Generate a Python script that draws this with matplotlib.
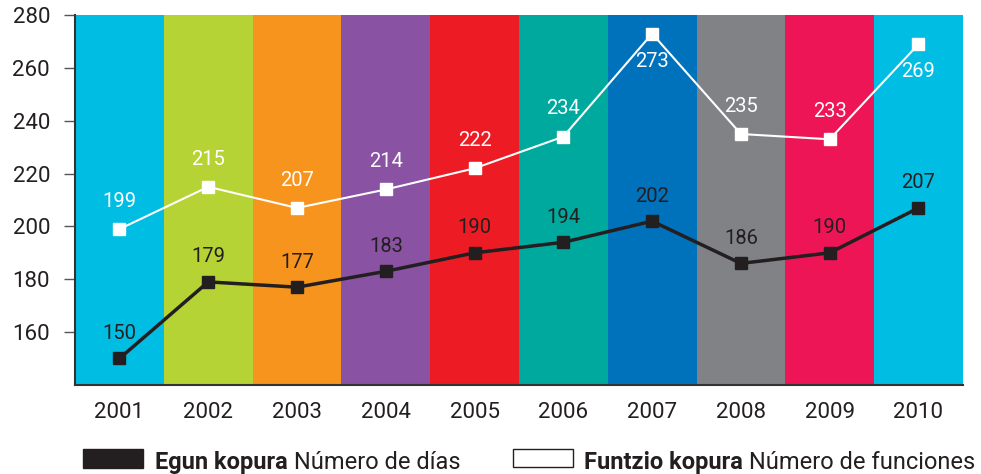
import matplotlib.pyplot as plt
from matplotlib.patches import Rectangle

plt.rcParams['font.family'] = ['Roboto', 'DejaVu Sans']

years = ['2001', '2002', '2003', '2004', '2005', '2006', '2007', '2008', '2009', '2010']
band_colors = ['#00BDE3', '#B5D334', '#F7941D', '#8A52A3', '#ED1C24',
               '#00A99D', '#0072BC', '#808285', '#ED1556', '#00BDE3']
days = [150, 179, 177, 183, 190, 194, 202, 186, 190, 207]
functions = [199, 215, 207, 214, 222, 234, 273, 235, 233, 269]
# white labels that sit under the point
below = ['2007', '2010']

dark = '#231F20'

fig = plt.figure(figsize=(9.81, 4.74), dpi=100)
ax = fig.add_axes([0.0765, 0.188, 0.905, 0.780])

x = list(range(len(years)))
ax.bar(x, [280 - 140] * len(x), bottom=140, width=1.0, color=band_colors, zorder=0)

ax.plot(x, days, color=dark, lw=2.5, marker='s', ms=8, zorder=3)
ax.plot(x, functions, color='white', lw=1.5, marker='s', ms=8, zorder=3)

for i, v in enumerate(days):
    ax.annotate(str(v), (i, v), xytext=(0, 18), textcoords='offset points',
                ha='center', va='center', fontsize=14.5, color=dark)
for i, v in enumerate(functions):
    dy = -20 if years[i] in below else 20
    ax.annotate(str(v), (i, v), xytext=(0, dy), textcoords='offset points',
                ha='center', va='center', fontsize=14.5, color='white')

ax.set_xlim(-0.5, 9.5)
ax.set_ylim(140, 280)
ax.set_yticks([160, 180, 200, 220, 240, 260, 280])
ax.set_xticks(x)
ax.set_xticklabels(years)
ax.tick_params(axis='x', length=0, pad=12, labelsize=16, labelcolor=dark)
ax.tick_params(axis='y', length=8, width=1, color='#555555', pad=10, labelsize=16, labelcolor=dark)
for s in ['top', 'right']:
    ax.spines[s].set_visible(False)
for s in ['left', 'bottom']:
    ax.spines[s].set_color('#333333')
    ax.spines[s].set_linewidth(1.5)

# legend drawn by hand
fig.add_artist(Rectangle((83 / 981, 1 - 468 / 474), 60 / 981, 19 / 474,
                         transform=fig.transFigure, facecolor=dark, edgecolor=dark))
t1 = fig.text(155 / 981, 1 - 469 / 474, 'Egun kopura', fontsize=17, fontweight='bold', color=dark)
ax.annotate(' Número de días', xy=(1, 0), xycoords=t1, va='bottom', fontsize=17, color=dark)
fig.add_artist(Rectangle((513 / 981, 1 - 467 / 474), 60 / 981, 18 / 474,
                         transform=fig.transFigure, facecolor='white', edgecolor=dark, lw=1))
t2 = fig.text(584 / 981, 1 - 469 / 474, 'Funtzio kopura', fontsize=17, fontweight='bold', color=dark)
ax.annotate(' Número de funciones', xy=(1, 0), xycoords=t2, va='bottom', fontsize=17, color=dark)

fig.savefig('out.png', dpi=100)
